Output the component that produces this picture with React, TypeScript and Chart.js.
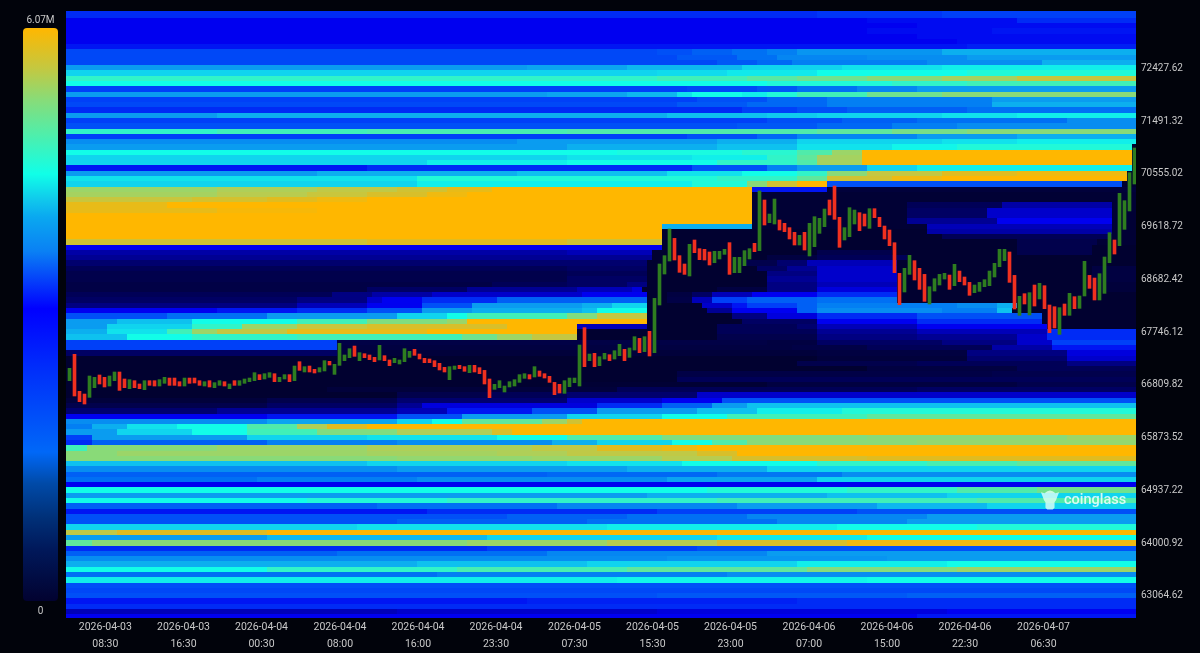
import React, { useEffect, useRef } from "react";
import { Chart, registerables } from "chart.js";

Chart.register(...registerables);

const FONT = "Roboto, 'Noto Sans', sans-serif";

// ---- axes ----
const yTickValues = [63064.62, 64000.92, 64937.22, 65873.52, 66809.82, 67746.12, 68682.42, 69618.72, 70555.02, 71491.32, 72427.62];
const xTickIndex = [7.16, 22.8, 38.4, 54.1, 69.7, 85.3, 101, 116.6, 132.2, 147.9, 163.5, 179.1, 194.8];
const xTickDates = ["2026-04-03", "2026-04-03", "2026-04-04", "2026-04-04", "2026-04-04", "2026-04-04", "2026-04-05", "2026-04-05", "2026-04-05", "2026-04-06", "2026-04-06", "2026-04-06", "2026-04-07"];
const xTickTimes = ["08:30", "16:30", "00:30", "08:00", "16:00", "23:30", "07:30", "15:30", "23:00", "07:00", "15:00", "22:30", "06:30"];
const legendMax = "6.07M";
const legendMin = "0";

// ---- candles (price range of each half-hour bar) ----
const candleHigh = [
  67102, 67351, 66694, 66646, 66966, 66942, 66984, 66942, 66966, 67037, 67037, 66913, 66901, 66883, 66824, 66883, 66883, 66883, 66901, 66942,
  66930, 66930, 66865, 66930, 66930, 66930, 66883, 66865, 66883, 66848, 66883, 66865, 66824, 66883, 66883, 66913, 66930, 67025, 66990, 67007,
  67025, 67007, 66942, 66990, 66990, 67143, 67220, 67132, 67143, 67084, 67114, 67238, 67226, 67173, 67546, 67339, 67451, 67498, 67380, 67362,
  67339, 67297, 67510, 67327, 67250, 67280, 67250, 67451, 67404, 67439, 67356, 67280, 67268, 67238, 67191, 67120, 67132, 67143, 67155, 67132,
  67155, 67155, 67114, 67066, 66913, 66818, 66883, 66788, 66865, 66901, 66990, 67007, 66990, 67132, 67055, 67007, 66960, 66853, 66818, 66883,
  66930, 66930, 67516, 67824, 67356, 67368, 67309, 67368, 67344, 67415, 67528, 67439, 67463, 67664, 67634, 67664, 67759, 68344, 68954, 69102,
  69575, 69409, 69102, 68954, 69303, 69380, 69226, 69214, 69167, 69179, 69179, 69214, 69333, 69072, 69072, 69191, 69226, 69321, 70250, 70090,
  69841, 70107, 69735, 69676, 69599, 69516, 69463, 69516, 69676, 69794, 69765, 69930, 70090, 70338, 69782, 69599, 69954, 69912, 69865, 69841,
  69936, 69936, 69782, 69628, 69557, 69332, 68788, 68877, 69108, 69013, 68877, 68770, 68551, 68693, 68770, 68788, 68758, 68948, 68829, 68723,
  68628, 68581, 68628, 68676, 68829, 68966, 69214, 69214, 69167, 68752, 68380, 68427, 68445, 68581, 68611, 68569, 68226, 68196, 68179, 68244,
  68433, 68374, 68386, 69001, 68752, 68705, 68782, 69078, 69510, 69380, 70208, 70078, 70575, 71013,
];
const candleLow = [
  66883, 66611, 66510, 66469, 66587, 66759, 66824, 66771, 66788, 66883, 66711, 66759, 66741, 66759, 66741, 66723, 66800, 66788, 66788, 66836,
  66800, 66800, 66788, 66788, 66836, 66842, 66800, 66788, 66771, 66759, 66800, 66788, 66741, 66800, 66800, 66836, 66865, 66883, 66901, 66913,
  66942, 66865, 66865, 66913, 66865, 66883, 67066, 67037, 67037, 67019, 67037, 67055, 67161, 66995, 67155, 67238, 67291, 67315, 67238, 67291,
  67256, 67220, 67250, 67238, 67149, 67203, 67179, 67220, 67297, 67333, 67268, 67203, 67203, 67132, 67073, 67037, 66901, 67084, 67096, 67049,
  67025, 67037, 67007, 66824, 66581, 66729, 66759, 66682, 66771, 66788, 66853, 66924, 66913, 66948, 66960, 66930, 66853, 66635, 66664, 66658,
  66777, 66848, 66788, 67132, 67238, 67131, 67149, 67267, 67238, 67267, 67327, 67238, 67297, 67427, 67380, 67398, 67321, 67380, 68226, 68776,
  69007, 69025, 68806, 68770, 68741, 69155, 69031, 69025, 68936, 68977, 69043, 69125, 68770, 68800, 68800, 68924, 69043, 69173, 69191, 69646,
  69688, 69664, 69557, 69528, 69398, 69291, 69291, 69202, 69096, 69262, 69498, 69617, 69824, 69747, 69250, 69380, 69439, 69664, 69545, 69628,
  69587, 69776, 69617, 69398, 69279, 68800, 68232, 68457, 68770, 68670, 68504, 68291, 68244, 68474, 68581, 68687, 68504, 68569, 68640, 68581,
  68398, 68445, 68468, 68551, 68569, 68723, 68906, 69013, 68628, 68155, 68043, 68244, 68049, 68208, 68333, 68161, 67735, 67818, 67705, 68043,
  68043, 68161, 68167, 68386, 68522, 68315, 68315, 68433, 68977, 69131, 69279, 69569, 69895, 70374,
];
const candleUp = [
  1,0,0,0,1,1,0,0,1,1,0,0,1,0,0,1,0,0,1,1,
  0,0,0,1,0,0,0,1,0,1,1,0,1,0,1,1,1,1,0,1,
  1,0,1,1,0,1,0,1,0,0,1,1,0,1,1,1,1,0,1,0,
  0,0,1,0,0,1,1,1,1,0,0,0,0,0,0,0,1,1,0,0,
  1,0,0,0,0,1,1,1,1,1,1,1,0,1,0,0,0,0,0,1,
  1,1,1,0,1,0,1,1,0,1,1,0,1,1,0,1,0,1,1,1,
  1,0,0,0,1,0,0,0,0,1,1,1,0,1,1,1,1,0,1,0,
  1,1,0,0,0,0,1,0,1,1,1,1,0,0,0,1,1,1,0,0,
  1,0,0,0,0,0,0,1,1,0,0,0,1,1,1,1,0,1,0,0,
  0,1,1,1,1,1,1,1,0,0,1,0,1,0,1,0,0,0,1,0,
  1,0,1,1,0,0,1,1,1,0,1,1,1,1,
];

// ---- heat bands: each row lists [first half-hour column, intensity 0-100] runs ----
const heatUpper = [
  [[0,30],[150,31],[175,32]],
  [[0,26],[160,27],[190,30]],
  [[0,26],[170,27]],
  [[0,26],[160,27],[185,28]],
  [[0,26],[170,27]],
  [[0,26],[178,27]],
  [[0,28],[180,29]],
  [[0,33],[118,34],[125,36],[133,38],[140,40],[146,43],[175,46]],
  [[0,33],[122,35],[134,38],[142,41],[160,42],[180,44]],
  [[0,33],[130,35],[138,37],[145,40],[172,42],[195,46]],
  [[0,44],[92,45],[112,47],[135,50],[155,52],[175,54]],
  [[0,50],[118,51],[132,53],[150,56],[180,58]],
  [[0,60],[118,62],[136,65],[146,68],[160,72],[175,78],[190,86]],
  [[0,56],[140,58],[165,60],[180,62]],
  [[0,32],[124,33],[138,35],[146,38],[158,41],[170,44]],
  [[0,44],[96,45],[112,47],[122,52],[125,56],[135,54],[140,58],[146,62],[160,68],[175,72]],
  [[0,32],[126,34],[140,37],[152,40],[185,44]],
  [[0,33],[122,35],[136,37],[152,40],[185,46]],
  [[0,30],[135,32],[146,34],[156,36],[180,38]],
  [[0,44],[30,46],[120,48],[140,49],[150,50],[175,52],[190,54]],
  [[0,32],[140,34],[155,36],[170,38],[200,42]],
  [[0,34],[134,35],[150,37],[165,40],[178,42]],
  [[0,60],[30,62],[60,63],[100,64],[150,66],[165,69],[180,72]],
  [[0,32],[124,34],[138,37],[146,41],[170,44],[190,46]],
  [[0,42],[90,44],[130,46],[146,50],[175,52],[190,54]],
  [[0,44],[100,46],[130,48],[146,52],[165,55],[178,58],[213,1]],
  [[0,56],[110,57],[135,59],[146,64],[153,76],[159,100],[213,1]],
  [[0,50],[100,52],[125,54],[140,60],[146,66],[150,78],[159,100],[213,1]],
  [[0,50],[72,54],[100,56],[130,60],[146,64],[150,78],[159,100],[213,1]],
  [[0,28],[60,30],[125,34],[140,40],[146,44],[160,50],[170,54],[213,1]],
  [[0,44],[50,46],[90,48],[120,52],[135,56],[146,60],[152,72],[160,85],[175,92],[190,96],[212,1]],
  [[0,52],[70,58],[130,60],[146,66],[152,88],[165,96],[175,100],[212,1]],
  [[0,50],[70,54],[125,58],[136,72],[140,88],[146,100],[152,34],[211,1]],
];
const heatOrangeBlock = [
  [[0,76],[30,80],[50,84],[66,88],[76,94],[85,100],[137,28],[152,3]],
  [[0,78],[30,82],[48,86],[60,90],[72,96],[80,100],[137,2]],
  [[0,86],[25,89],[40,92],[50,96],[60,100],[137,2]],
  [[0,94],[20,100],[137,2],[168,8],[187,18],[209,2]],
  [[0,94],[30,98],[50,100],[137,2],[168,10],[184,22],[209,2]],
  [[0,100],[137,2],[168,10],[184,22],[209,2]],
  [[0,100],[137,2],[168,16],[186,26],[209,2]],
  [[0,100],[119,46],[137,2],[172,20],[209,2]],
  [[0,100],[119,1],[172,18],[209,2]],
  [[0,100],[119,1],[175,8],[209,2]],
  [[0,88],[60,92],[100,88],[119,1],[190,6],[206,2]],
];
const heatClearedBand = [
  [[0,26],[119,1],[190,6],[205,1]],
  [[0,18],[100,20],[117,1],[150,6],[165,1],[190,6],[205,1]],
  [[0,16],[117,1],[140,4],[150,8],[168,1]],
  [[0,12],[116,1],[135,6],[142,12],[148,20],[166,1]],
  [[0,8],[100,10],[116,1],[138,10],[144,16],[150,22],[166,1],[205,4]],
  [[0,6],[100,8],[116,1],[140,14],[150,22],[166,1],[205,4]],
  [[0,6],[100,10],[116,1],[140,16],[150,22],[166,1],[205,4]],
  [[0,5],[85,8],[100,10],[112,14],[116,1],[140,14],[150,20],[166,1],[205,3]],
  [[0,5],[60,10],[80,16],[102,20],[113,24],[115,1],[130,4],[140,14],[150,24],[166,1],[205,3]],
  [[0,8],[46,8],[53,14],[61,18],[73,22],[103,26],[116,1],[120,4],[125,10],[129,20],[137,26],[150,30],[166,1]],
  [[0,10],[46,14],[60,22],[63,26],[71,30],[86,36],[116,1],[120,5],[125,20],[129,32],[136,36],[150,38],[166,1]],
  [[0,14],[46,20],[60,26],[71,34],[81,44],[103,46],[109,50],[116,1],[127,22],[133,28],[136,32],[146,36],[150,40],[178,42],[186,46],[190,1]],
  [[0,26],[30,28],[46,30],[60,34],[71,44],[81,46],[103,48],[106,56],[116,1],[128,16],[133,26],[146,36],[150,42],[175,40],[186,48],[189,1]],
  [[0,34],[20,38],[40,44],[66,50],[76,56],[80,62],[100,70],[106,85],[116,1],[133,14],[140,24],[150,30],[170,34],[195,1]],
  [[0,44],[10,48],[25,56],[46,62],[60,70],[76,76],[80,100],[116,1],[135,10],[150,26],[170,30],[195,1]],
  [[0,44],[8,50],[25,60],[35,76],[46,86],[60,90],[88,100],[102,20],[116,1],[130,8],[146,12],[150,20],[170,26],[196,1]],
  [[0,46],[8,52],[20,62],[25,76],[30,85],[44,94],[72,100],[102,1],[130,8],[150,16],[170,20],[196,30]],
  [[0,48],[12,56],[25,60],[46,62],[79,68],[86,76],[93,85],[102,1],[130,6],[150,14],[170,16],[190,22],[196,30]],
  [[0,32],[54,5],[140,4],[150,10],[175,14],[190,22],[197,32]],
  [[0,32],[54,4],[145,5],[160,8],[185,18],[197,28]],
  [[0,10],[54,3],[150,4],[180,14],[200,24]],
  [[0,1],[150,3],[180,12],[200,22]],
  [[0,1],[146,6],[170,8],[200,14]],
  [[0,1],[160,4],[190,8]],
  [[0,1],[122,5],[185,6]],
  [[0,1],[122,8],[185,8]],
  [[0,1],[100,2],[140,4],[190,6]],
  [[0,1],[52,3],[110,8],[170,10]],
  [[0,1],[66,6],[84,8],[100,12],[126,22]],
];
const heatLower = [
  [[0,3],[40,6],[66,12],[100,22],[119,26],[131,34]],
  [[0,6],[40,10],[66,16],[71,24],[106,30],[119,36],[129,44],[136,48]],
  [[0,12],[30,16],[66,20],[76,28],[93,34],[106,44],[126,48],[138,54],[155,58]],
  [[0,26],[40,28],[66,34],[79,44],[100,50],[119,56],[132,62],[160,66]],
  [[0,42],[40,45],[66,50],[73,56],[79,66],[95,76],[100,88],[103,100]],
  [[0,40],[5,46],[12,52],[22,56],[36,64],[46,80],[52,92],[60,100]],
  [[0,44],[10,50],[25,56],[36,62],[50,70],[66,80],[85,90],[89,100]],
  [[0,32],[5,44],[36,50],[60,52],[86,56],[100,64],[119,70],[160,72],[200,76]],
  [[0,30],[5,36],[40,40],[66,42],[97,46],[106,50],[121,56],[129,64],[136,72],[170,74]],
  [[0,62],[4,72],[30,76],[60,80],[93,84],[106,92],[119,95],[126,100]],
  [[0,72],[10,76],[60,78],[86,80],[100,84],[126,90],[134,100]],
  [[0,72],[66,74],[93,76],[119,82],[133,90],[160,92]],
  [[0,48],[60,50],[100,52],[123,56],[150,60],[172,63],[190,66]],
  [[0,42],[66,44],[112,46],[140,50]],
  [[0,36],[96,37],[130,39],[155,42]],
  [[0,38],[38,40],[70,42],[120,45],[150,50]],
  [[0,26]],
  [[0,56],[128,58],[156,60],[178,64],[194,68]],
  [[0,44],[116,46],[152,48],[176,50]],
  [[0,56],[48,58],[76,60],[130,62],[182,64]],
  [[0,36],[62,38],[98,41],[134,44],[162,47],[184,50]],
  [[0,28],[72,30],[118,32],[158,34]],
  [[0,34],[88,36],[112,38],[136,41],[172,44]],
  [[0,34],[66,36],[104,38],[142,41],[168,44]],
  [[0,50],[58,52],[108,54],[154,56],[182,58]],
  [[0,84],[10,92],[40,100]],
  [[0,44],[40,47],[84,50],[130,53],[160,56]],
  [[0,66],[5,72],[80,76],[108,82],[130,90],[156,96]],
  [[0,30],[84,32],[126,34]],
  [[0,36],[54,38],[96,41],[140,44]],
  [[0,42],[120,43],[164,44]],
  [[0,46],[70,48],[104,50],[146,54],[176,56]],
  [[0,56],[40,60],[78,63],[112,66],[148,71],[178,76]],
  [[0,38],[74,40],[132,42]],
  [[0,54],[110,55],[160,56]],
  [[0,34]],
  [[0,33]],
  [[0,34],[118,35],[168,36]],
  [[0,28],[92,29],[146,30]],
  [[0,30]],
  [[0,20],[66,22],[118,24],[176,26]],
  [[0,26],[170,28]],
];

const heatRows: number[][][] = [...heatUpper, ...heatOrangeBlock, ...heatClearedBand, ...heatLower];

// ---- colour ladders ----
const heatStops: [number, number, number, number][] = [
  [0, 1, 1, 42], [12, 0, 0, 110], [20, 0, 0, 184], [26, 0, 0, 240], [32, 0, 64, 248], [38, 0, 112, 244],
  [44, 10, 156, 240], [50, 16, 212, 238], [56, 18, 253, 232], [62, 64, 240, 184], [70, 128, 221, 128],
  [82, 184, 204, 80], [92, 224, 188, 32], [100, 255, 183, 0],
];
function heatColor(level: number) {
  for (let i = 1; i < heatStops.length; i++) {
    const a = heatStops[i - 1];
    const b = heatStops[i];
    if (level <= b[0]) {
      const t = (level - a[0]) / (b[0] - a[0]);
      const mix = (k: number) => Math.round(a[k] + (b[k] - a[k]) * t);
      return `rgb(${mix(1)},${mix(2)},${mix(3)})`;
    }
  }
  return "rgb(255,183,0)";
}
const legendGradient =
  "linear-gradient(to bottom,#ffb700 0%,#c4c840 7%,#88dc78 12.5%,#50eeaa 18.5%,#10ffe8 25.5%,#10c8ec 30%,#0aa8f0 33%,#0a80f4 39%,#0000ff 49%,#0030fa 60%,#0068f8 74%,#004aa8 79.5%,#003078 85.5%,#00185a 91%,#020230 100%)";

const PRICE_BAND = 93.7;
const FIRST_BAND_TOP = 73420.1;

const heatmapPlugin = {
  id: "heatmap",
  beforeDatasetsDraw(chart: any) {
    const { ctx, scales, chartArea } = chart;
    const x = scales.x;
    const y = scales.y;
    ctx.save();
    ctx.beginPath();
    ctx.rect(chartArea.left, chartArea.top, chartArea.right - chartArea.left, chartArea.bottom - chartArea.top);
    ctx.clip();
    heatRows.forEach((runs, r) => {
      const top = r === 0 ? y.max : FIRST_BAND_TOP - PRICE_BAND * r;
      const bottom = r === heatRows.length - 1 ? y.min : FIRST_BAND_TOP - PRICE_BAND * (r + 1);
      const py0 = Math.round(y.getPixelForValue(top));
      const py1 = Math.round(y.getPixelForValue(bottom));
      runs.forEach((run, j) => {
        const from = j === 0 ? x.min : run[0] - 0.5;
        const to = j === runs.length - 1 ? x.max : runs[j + 1][0] - 0.5;
        const px0 = Math.round(x.getPixelForValue(from));
        const px1 = Math.round(x.getPixelForValue(to));
        ctx.fillStyle = heatColor(run[1]);
        ctx.fillRect(px0, py0, px1 - px0, py1 - py0);
      });
    });
    ctx.restore();
  },
};

export default function App() {
  const ref = useRef<HTMLCanvasElement>(null);
  useEffect(() => {
    const chart = new Chart(ref.current as HTMLCanvasElement, {
      type: "bar",
      data: {
        datasets: [
          {
            label: "BTC price",
            data: candleHigh.map((h, i) => ({ x: i, y: [candleLow[i], h] })) as any,
            backgroundColor: candleUp.map((u) => (u ? "#2e7d20" : "#f0301f")),
            borderWidth: 0,
            barThickness: 3,
          },
        ],
      },
      options: {
        animation: false,
        responsive: false,
        layout: { padding: { left: 66, top: 11, right: 0, bottom: 0 } },
        plugins: { legend: { display: false }, tooltip: { enabled: false } },
        scales: {
          x: {
            type: "linear",
            min: -0.7,
            max: 213.3,
            offset: false,
            grid: { display: false, drawTicks: false, tickLength: 0 },
            border: { display: false },
            afterBuildTicks: (s: any) => {
              s.ticks = xTickIndex.map((value) => ({ value }));
            },
            afterFit: (s: any) => {
              s.height = 35;
            },
            ticks: {
              autoSkip: false,
              maxRotation: 0,
              color: "#c9c9c9",
              padding: 1,
              font: { family: FONT, size: 10.5, lineHeight: 1.6 },
              callback: (_v: any, i: number) => [xTickDates[i], xTickTimes[i]],
            },
          },
          y: {
            position: "right",
            min: 62670.5,
            max: 73444.75,
            grid: { display: false, drawTicks: false, tickLength: 0 },
            border: { display: false },
            afterBuildTicks: (s: any) => {
              s.ticks = yTickValues.map((value) => ({ value }));
            },
            afterFit: (s: any) => {
              s.width = 64;
            },
            ticks: {
              autoSkip: false,
              color: "#c9c9c9",
              padding: 5,
              font: { family: FONT, size: 10 },
              callback: (v: any) => Number(v).toFixed(2),
            },
          },
        },
      } as any,
      plugins: [heatmapPlugin as any],
    });
    return () => chart.destroy();
  }, []);

  return (
    <div style={{ position: "fixed", left: 0, top: 0, width: 1200, height: 653, background: "#01030b", overflow: "hidden", fontFamily: FONT }}>
      <canvas ref={ref} width={1200} height={653} style={{ position: "absolute", left: 0, top: 0, display: "block" }} />
      <div style={{ position: "absolute", left: 23, top: 28, width: 35, height: 573, borderRadius: 4, background: legendGradient }} />
      <div style={{ position: "absolute", left: 13, width: 55, top: 13, textAlign: "center", color: "#c9c9c9", fontSize: 10, lineHeight: "13px" }}>{legendMax}</div>
      <div style={{ position: "absolute", left: 13, width: 55, top: 604, textAlign: "center", color: "#c9c9c9", fontSize: 10, lineHeight: "13px" }}>{legendMin}</div>
      <svg width={20} height={23} viewBox="0 0 22 24" style={{ position: "absolute", left: 1040, top: 489, opacity: 0.78 }}>
        <path d="M1 3 L5 4 Q8 1 11 1 Q14 1 17 4 L21 3 L19 8 Q18 12 16 14 L16 20 L14 22 L8 22 L6 20 L6 14 Q4 12 3 8 Z" fill="#e6fff8" />
      </svg>
      <div style={{ position: "absolute", left: 1064, top: 490, color: "rgba(238,255,250,0.88)", fontSize: 14.5, fontWeight: 500, lineHeight: "20px" }}>coinglass</div>
    </div>
  );
}
